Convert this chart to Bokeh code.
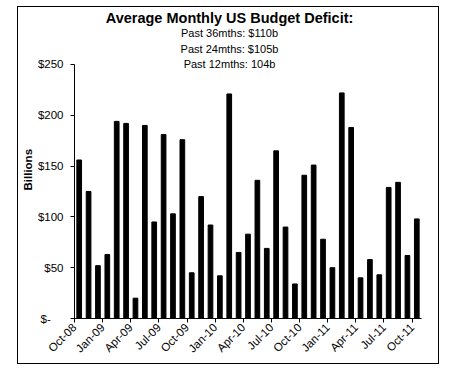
import math
from bokeh.plotting import figure
from bokeh.models import Range1d, FixedTicker, Title, Label, ColumnDataSource
from bokeh.embed import file_html
from bokeh.resources import INLINE

months = ["Oct-08", "Nov-08", "Dec-08", "Jan-09", "Feb-09", "Mar-09", "Apr-09", "May-09", "Jun-09",
          "Jul-09", "Aug-09", "Sep-09", "Oct-09", "Nov-09", "Dec-09", "Jan-10", "Feb-10", "Mar-10",
          "Apr-10", "May-10", "Jun-10", "Jul-10", "Aug-10", "Sep-10", "Oct-10", "Nov-10", "Dec-10",
          "Jan-11", "Feb-11", "Mar-11", "Apr-11", "May-11", "Jun-11", "Jul-11", "Aug-11", "Sep-11",
          "Oct-11"]
deficit = [156, 125, 52, 63, 194, 192, 20, 190, 95, 181, 103, 176, 45, 120, 92, 42, 221, 65,
           83, 136, 69, 165, 90, 34, 141, 151, 78, 50, 222, 188, 40, 58, 43, 129, 134, 62, 98]
y_ticks = [0, 50, 100, 150, 200, 250]
y_tick_labels = ["$-\u00a0\u00a0\u00a0\u00a0", "$50", "$100", "$150", "$200", "$250"]
title = "Average Monthly US Budget Deficit:"
subtitles = ["Past 36mths: $110b", "Past 24mths: $105b", "Past 12mths: 104b"]

FONT = "Liberation Sans"
n = len(months)
src = ColumnDataSource(dict(x=[i + 0.5 for i in range(n)], top=deficit))

# extra headroom above 250 holds the title block inside the frame
y_top = 305.1
p = figure(width=422, height=358, output_backend="svg", toolbar_location=None,
           x_range=Range1d(0, n), y_range=Range1d(0, y_top),
           min_border_left=56, min_border_right=19, min_border_top=1, min_border_bottom=47)
p.margin = (6, 0, 0, 17)
p.styles = {"border": "1px solid black"}
p.outline_line_color = None
p.background_fill_color = "white"
p.border_fill_color = "white"
p.xgrid.visible = False
p.ygrid.visible = False

p.vbar(x="x", top="top", width=0.5, source=src, color="black")

tick_pos = list(range(0, n, 3))
p.xaxis.ticker = FixedTicker(ticks=tick_pos)
p.xaxis.major_label_overrides = {t: months[t] for t in tick_pos}
p.xaxis.major_label_orientation = math.pi / 4
p.yaxis.ticker = FixedTicker(ticks=y_ticks)
p.yaxis.major_label_overrides = dict(zip(y_ticks, y_tick_labels))
p.yaxis.bounds = (0, 250)

for ax in (p.xaxis, p.yaxis):
    ax.axis_line_color = "black"
    ax.major_tick_line_color = "black"
    ax.major_tick_out = 4
    ax.major_tick_in = 0
    ax.minor_tick_line_color = None
    ax.major_label_text_font = FONT
    ax.major_label_text_font_size = "11.5px"
    ax.major_label_text_color = "black"
p.yaxis.major_label_standoff = 7
p.xaxis.major_label_standoff = 3

xc = 16.53
p.add_layout(Label(x=xc, y=296.2, text=title, text_font=FONT, text_font_size="14.5px",
                   text_font_style="bold", text_align="center", text_baseline="middle",
                   text_color="black"))
for yy, s in zip([280.5, 264.8, 250.0], subtitles):
    p.add_layout(Label(x=xc, y=yy, text=s, text_font=FONT, text_font_size="11px",
                       text_align="center", text_baseline="middle", text_color="black"))

p.add_layout(Title(text="Billions", align="left", offset=128, text_font=FONT,
                   text_font_size="11.5px", text_font_style="bold", text_color="black",
                   standoff=2), "left")

open("out.html", "w").write(file_html(p, INLINE))
